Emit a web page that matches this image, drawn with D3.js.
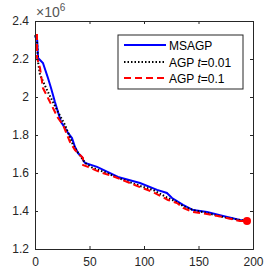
<!DOCTYPE html>
<html><head><meta charset="utf-8">
<script src="https://cdn.jsdelivr.net/npm/d3@7"></script>
<style>body{margin:0;background:#fff}svg{display:block}text{font-family:"Liberation Sans",Arial,sans-serif}</style>
</head><body><svg id="c" width="280" height="280"></svg>
<script>
const xTicks=[0,50,100,150,200];
const yTicks=[1.2,1.4,1.6,1.8,2.0,2.2,2.4];
const seriesNames=["MSAGP","AGP t=0.01","AGP t=0.1"];
const msagpIter=[0,2,2.8,7.3,11.9,14.7,16.5,18.3,21.1,23.9,27.5,30.3,33.9,36.7,39.4,43.1,44,45.9,56.9,67,76.1,96.3,112,121,125.7,135.8,145,157.8,172.5,188,194.5];
const msagpVal=[2.32,2.30,2.205,2.179,2.1,2.047,2.011,1.974,1.921,1.868,1.837,1.811,1.784,1.737,1.705,1.684,1.668,1.653,1.632,1.605,1.579,1.547,1.511,1.495,1.468,1.432,1.405,1.395,1.374,1.353,1.347];
const agp001Iter=[0,1.8,2.8,4.6,11.9,21.1,27.5,34.9,45.9,53.2,66,76.1,96.3,108.3,122,130.3,135.8,145,157.8,172.5,188,194.5];
const agp001Val=[2.326,2.3,2.184,2.116,2.026,1.921,1.853,1.747,1.653,1.626,1.6,1.574,1.532,1.511,1.468,1.447,1.426,1.405,1.389,1.368,1.353,1.347];
const agp01Iter=[0,1.8,1.9,4.6,7.3,11.9,16.5,21.1,25.7,32.1,36.7,41.3,44,44.1,48.6,59.6,73.4,87.2,96.3,108.3,122,130.3,135.8,145,157.8,172.5,188,194.5];
const agp01Val=[2.326,2.326,2.205,2.153,2.047,1.995,1.942,1.889,1.853,1.763,1.721,1.695,1.679,1.642,1.632,1.605,1.579,1.547,1.526,1.5,1.458,1.442,1.416,1.395,1.384,1.368,1.347,1.347];

const svg=d3.select("#c");
const L=35,R=253,T=21,B=249;
const x=d3.scaleLinear().domain([0,200]).range([L,R]);
const y=d3.scaleLinear().domain([1.2,2.4]).range([B,T]);
const axCol="#262626";

svg.append("rect").attr("x",L).attr("y",T).attr("width",R-L).attr("height",B-T).attr("fill","#fff");

const line=d3.line().x(d=>x(d[0])).y(d=>y(d[1]));
const g=svg.append("g");
g.append("path").datum(d3.zip(msagpIter,msagpVal)).attr("d",line).attr("fill","none").attr("stroke","#0000ff").attr("stroke-width",2);
g.append("path").datum(d3.zip(agp001Iter,agp001Val)).attr("d",line).attr("fill","none").attr("stroke","#000").attr("stroke-width",2).attr("stroke-dasharray","1.5,2");
g.append("path").datum(d3.zip(agp01Iter,agp01Val)).attr("d",line).attr("fill","none").attr("stroke","#ff0000").attr("stroke-width",2).attr("stroke-dasharray","7,4");
const last=agp01Iter.length-1;
g.append("circle").attr("cx",x(agp01Iter[last])).attr("cy",y(agp01Val[last])).attr("r",4).attr("fill","#ff0000");

// axes
const xb=d3.axisBottom(x).tickValues(xTicks).tickSize(-3).tickPadding(8).tickFormat(d3.format("d"));
const xt=d3.axisTop(x).tickValues(xTicks).tickSize(-3).tickFormat("");
const yl=d3.axisLeft(y).tickValues(yTicks).tickSize(-3).tickPadding(6).tickFormat(d=>d3.format("")(+d.toFixed(1)));
const yr=d3.axisRight(y).tickValues(yTicks).tickSize(-3).tickFormat("");
[[xb,`translate(0,${B})`],[xt,`translate(0,${T})`],[yl,`translate(${L},0)`],[yr,`translate(${R},0)`]].forEach(([a,t])=>{
  const gg=svg.append("g").attr("transform",t).call(a);
  gg.select(".domain").attr("stroke",axCol);
  gg.selectAll(".tick line").attr("stroke",axCol);
  gg.selectAll("text").attr("fill",axCol).style("font-size","12px").style("font-family","'Liberation Sans',Arial,sans-serif");
});

// exponent
const ex=svg.append("text").attr("x",36).attr("y",17).attr("fill","#555").style("font-size","14px");
ex.append("tspan").text("\u00d710");
ex.append("tspan").attr("dy",-6).style("font-size","10px").text("6");

// legend
const lg=svg.append("g");
lg.append("rect").attr("x",118).attr("y",35).attr("width",125).attr("height",54).attr("fill","#fff").attr("stroke",axCol).attr("stroke-width",1);
const items=[{c:"#0000ff",d:null},{c:"#000",d:"1.5,2"},{c:"#ff0000",d:"7,4"}];
const ly=[45,62,78];
items.forEach((it,i)=>{
  lg.append("line").attr("x1",124).attr("x2",166).attr("y1",ly[i]).attr("y2",ly[i]).attr("stroke",it.c).attr("stroke-width",2).attr("stroke-dasharray",it.d);
});
const lt=lg.selectAll("text.l").data(seriesNames).enter().append("text").attr("x",169).attr("y",(d,i)=>ly[i]+4.5).attr("fill","#000").style("font-size","12px");
lt.each(function(d){
  const t=d3.select(this);
  const m=d.match(/^(AGP )t(=.*)$/);
  if(m){t.append("tspan").text(m[1]);t.append("tspan").style("font-style","italic").text("t");t.append("tspan").text(m[2]);}
  else t.text(d);
});
</script></body></html>
